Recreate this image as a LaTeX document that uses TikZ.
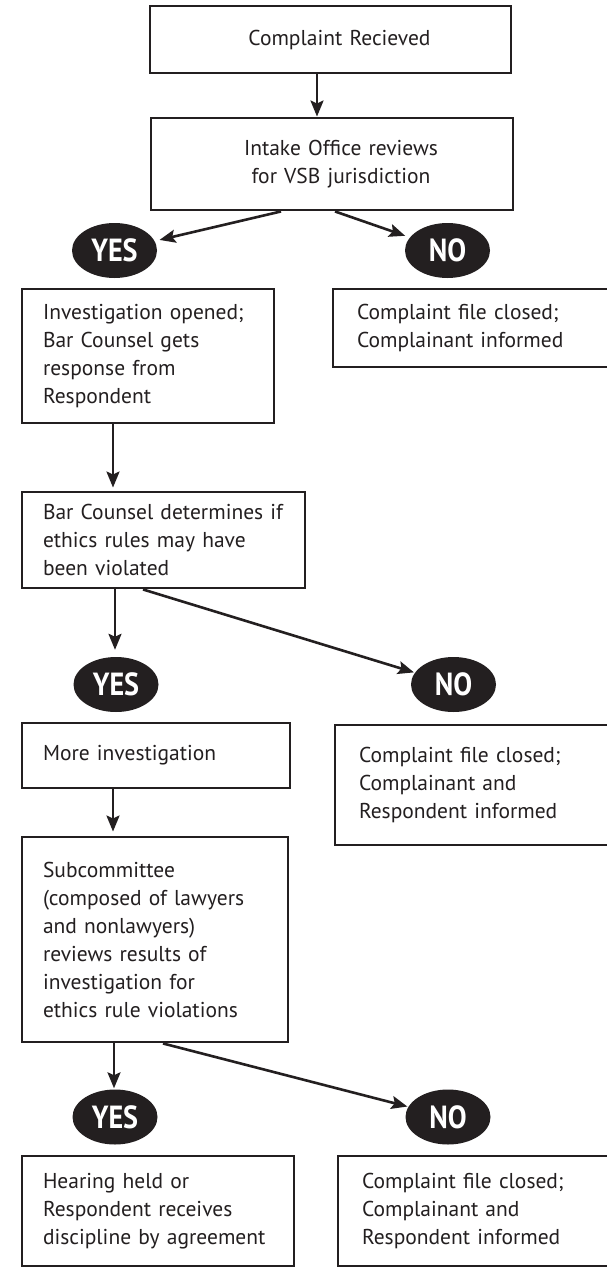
\documentclass[tikz,border=0pt]{standalone}
\usepackage{fontspec}
\setmainfont{PT Sans}
\newfontfamily\ansfont{PT Sans}[FakeStretch=0.88]
\usetikzlibrary{arrows.meta,shapes.geometric}
\definecolor{ink}{HTML}{231F20}
\begin{document}
\begin{tikzpicture}[x=1pt,y=-1pt,
  box/.style={draw=ink, line width=2.9pt, rectangle, inner xsep=21pt, inner ysep=0pt,
    align=left, font=\fontsize{21.5}{28}\selectfont, text=ink},
  rbox/.style={box, inner xsep=24pt},
  cbox/.style={box, align=center},
  ans/.style={ellipse, fill=ink, minimum width=85pt, minimum height=55pt, inner sep=0pt,
    text=white, font=\ansfont\bfseries\fontsize{32}{32}\selectfont},
  arr/.style={draw=ink, line width=2.6pt, -{Stealth[length=16pt,width=13pt,inset=3pt]}},
]
\useasboundingbox (0,0) rectangle (607,1268);
\fill[white] (0,0) rectangle (607,1268);

% boxes
\node[cbox, minimum width=361pt, minimum height=67pt, text width=319pt] (b1) at (330.5,39.5)
  {\hspace*{18pt}Complaint Recieved};
\node[cbox, minimum width=362pt, minimum height=92pt, text width=320pt] (b2) at (332,164)
  {\hspace*{18pt}Intake Office reviews\\\hspace*{18pt}for VSB jurisdiction};
\node[ans] (y1) at (114.5,250.5) {YES};
\node[ans] (n1) at (447.5,250.5) {NO};
\node[box, minimum width=252pt, minimum height=134pt, text width=210pt] (b3) at (148,356)
  {Investigation opened;\\Bar Counsel gets\\response from\\Respondent};
\node[rbox, minimum width=307pt, minimum height=78pt, text width=259pt] (c1) at (486.5,328)
  {Complaint file closed;\\Complainant informed};
\node[box, minimum width=283pt, minimum height=96pt, text width=241pt] (b4) at (163.5,540)
  {Bar Counsel determines if\\ethics rules may have\\been violated};
\node[ans] (y2) at (116,684.5) {YES};
\node[ans] (n2) at (453.5,684.5) {NO};
\node[box, minimum width=268pt, minimum height=65pt, text width=226pt] (b5) at (156,755.5)
  {More investigation};
\node[rbox, minimum width=305pt, minimum height=120pt, text width=257pt] (c2) at (487.5,785)
  {Complaint file closed;\\Complainant and\\Respondent informed};
\node[box, minimum width=266pt, minimum height=205pt, text width=224pt] (b6) at (155,939.5)
  {Subcommittee\\(composed of lawyers\\and nonlawyers)\\reviews results of\\investigation for\\ethics rule violations};
\node[ans] (y3) at (115,1117) {YES};
\node[ans] (n3) at (448,1117) {NO};
\node[box, minimum width=272pt, minimum height=110pt, text width=230pt] (b7) at (158,1211)
  {Hearing held or\\Respondent receives\\discipline by agreement};
\node[rbox, minimum width=302pt, minimum height=110pt, text width=254pt] (c3) at (489,1211)
  {Complaint file closed;\\Complainant and\\Respondent informed};

% connectors
\draw[arr] (317,0 |- b1.south) -- (317,0 |- b2.north);
\draw[arr, shorten >=5pt] (281,0 |- b2.south) -- (y1);
\draw[arr, shorten >=5pt] (335,0 |- b2.south) -- (n1);
\draw[arr, shorten >=3pt] (113,0 |- b3.south) -- (113,0 |- b4.north);
\draw[arr, shorten >=7pt] (115,0 |- b4.south) -- (115,0 |- y2.north);
\draw[arr, shorten >=1pt] (143,0 |- b4.south) -- (n2);
\draw[arr, shorten >=4pt] (113,0 |- b5.south) -- (113,0 |- b6.north);
\draw[arr, shorten >=1pt] (114,0 |- b6.south) -- (114,0 |- y3.north);
\draw[arr, shorten >=1pt] (163,0 |- b6.south) -- (n3);
\end{tikzpicture}
\end{document}
